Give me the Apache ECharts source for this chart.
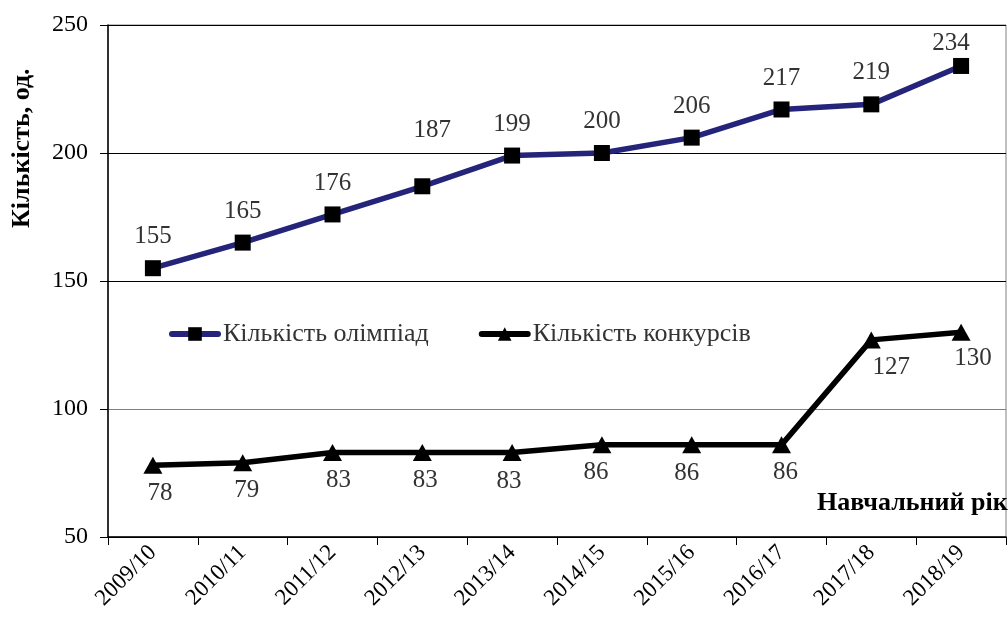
<!DOCTYPE html>
<html><head><meta charset="utf-8">
<script src="https://cdn.jsdelivr.net/npm/echarts@6/dist/echarts.min.js"></script>
<style>html,body{margin:0;padding:0;background:#fff}#c{width:1008px;height:619px}</style>
</head><body><div id="c"></div>
<script>
const years = ['2009/10','2010/11','2011/12','2012/13','2013/14','2014/15','2015/16','2016/17','2017/18','2018/19'];
const olympiads = [155,165,176,187,199,200,206,217,219,234];
const contests = [78,79,83,83,83,86,86,86,127,130];
const seriesNames = ['Кількість олімпіад','Кількість конкурсів'];
const yTicks = [50,100,150,200,250];

// label nudges (styling, not data)
const olLabelOffsets = [[0,0],[0,0],[0,0],[10,-24],[0,0],[0,0],[0,0],[0,0],[0,0],[-10,9]];
const coLabelOffsets = [[7,0],[4,0],[6,0],[3,0],[-3,1],[-6,0],[-5,1],[4,0],[20,0],[12,-2]];

const serif = '"Liberation Serif","DejaVu Serif",serif';
const chart = echarts.init(document.getElementById('c'));
chart.setOption({
  animation:false,
  backgroundColor:'#fff',
  grid:{left:108,right:2,top:25,bottom:82,show:true,borderColor:'#808080',borderWidth:1},
  legend:{
    left:164, top:316, itemGap:50, itemWidth:46, itemHeight:17,
    lineStyle:{width:6, cap:'round'},
    textStyle:{fontFamily:serif,fontSize:26,color:'#333'},
    data:seriesNames
  },
  xAxis:{
    type:'category', data:years, boundaryGap:true,
    axisLine:{lineStyle:{color:'#000',width:1.5}},
    axisTick:{show:true,length:8,lineStyle:{color:'#000'}},
    axisLabel:{rotate:45,fontFamily:serif,fontSize:23,color:'#000',margin:12}
  },
  yAxis:{
    type:'value', min:yTicks[0], max:yTicks[yTicks.length-1], interval:50,
    axisLine:{show:true,lineStyle:{color:'#000',width:1.5}},
    axisTick:{show:true,length:8,lineStyle:{color:'#000'}},
    axisLabel:{fontFamily:serif,fontSize:24,color:'#000',margin:20},
    splitLine:{show:true,lineStyle:{color:['#000','#808080','#000','#000','#000'],width:1}}
  },
  graphic:[
    {type:'text',x:9,y:228,rotation:Math.PI/2,
     style:{text:'Кількість, од.',font:'bold 26px '+serif,fill:'#000'}},
    {type:'text',x:817,y:490,
     style:{text:'Навчальний рік',font:'bold 26px '+serif,fill:'#000'}}
  ],
  series:[
    {name:seriesNames[0],type:'line',
     data:olympiads.map((v,i)=>({value:v,label:{offset:olLabelOffsets[i]}})),
     symbol:'rect',symbolSize:16,
     itemStyle:{color:'#000'},
     lineStyle:{color:'#24247a',width:5.5},
     label:{show:true,position:'top',distance:11,fontFamily:serif,fontSize:25,color:'#333'},
     z:3},
    {name:seriesNames[1],type:'line',
     data:contests.map((v,i)=>({value:v,label:{offset:coLabelOffsets[i]}})),
     symbol:'triangle',symbolSize:[19,17],
     itemStyle:{color:'#000'},
     lineStyle:{color:'#000',width:5.5},
     label:{show:true,position:'bottom',distance:7,fontFamily:serif,fontSize:25,color:'#333'},
     z:2}
  ]
});
</script></body></html>
